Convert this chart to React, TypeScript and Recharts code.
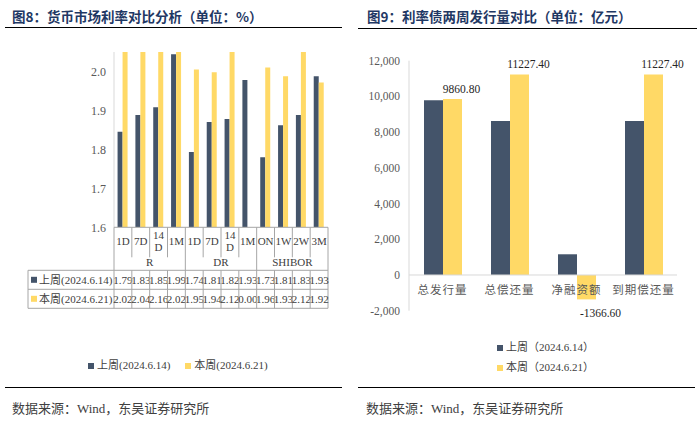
import { BarChart, Bar, XAxis, YAxis, ReferenceLine, Legend, LabelList } from 'recharts';

// Fig 8: money market rates (bars, table as printed)
const rateTerms = ['1D', '7D', '14D', '1M', '1D', '7D', '14D', '1M', 'ON', '1W', '2W', '3M'];
const rateGroups = ['R', 'DR', 'SHIBOR'];
const rateBarsLastWeek = [1.845, 1.888, 1.908, 2.044, 1.793, 1.87, 1.878, 1.978, 1.78, 1.862, 1.888, 1.988];
const rateBarsThisWeek = [2.075, 2.095, 2.215, 2.075, 2.005, 1.998, 2.175, null, 2.01, 1.988, 2.175, 1.972];
const rateTableLastWeek = ['1.79', '1.83', '1.85', '1.99', '1.74', '1.81', '1.82', '1.93', '1.73', '1.81', '1.83', '1.93'];
const rateTableThisWeek = ['2.02', '2.04', '2.16', '2.02', '1.95', '1.94', '2.12', '0.00', '1.96', '1.93', '2.12', '1.92'];
const rateTicks = [1.6, 1.7, 1.8, 1.9, 2.0];

// Fig 9: rate bond issuance
const bondCats = ['总发行量', '总偿还量', '净融资额', '到期偿还量'];
const bondLastWeek = [9780, 8620, 1160, 8620];
const bondThisWeek = [9860.8, 11227.4, -1366.6, 11227.4];
const bondTicks = [-2000, 0, 2000, 4000, 6000, 8000, 10000, 12000];

const LAST_LABEL = '上周(2024.6.14)';
const THIS_LABEL = '本周(2024.6.21)';
const LAST_LABEL_CN = '上周（2024.6.14）';
const THIS_LABEL_CN = '本周（2024.6.21）';

const NAVY = '#44546A';
const YELLOW = '#FFD966';
const SERIF = '"Liberation Serif", "Noto Sans CJK SC", serif';
const GRID = '#A6A6A6';

const rateData = rateTerms.map((t, i) => ({
  term: t,
  idx: i,
  last: rateBarsLastWeek[i],
  cur: rateBarsThisWeek[i],
}));

const bondData = bondCats.map((c, i) => ({ cat: c, last: bondLastWeek[i], cur: bondThisWeek[i] }));

// left chart geometry
const L_AXIS_W = 114;
const L_PLOT_W = 214;
const COL_W = L_PLOT_W / rateTerms.length;
const ROW_LABEL_X = 28;

function RateTableTick(props: any) {
  const { x, y, payload } = props;
  const i = payload.index;
  const left = x - COL_W / 2;
  const right = x + COL_W / 2;
  const term = rateTerms[i];
  const txt = { fontFamily: SERIF, fontSize: 11, fill: '#404040', textAnchor: 'middle' as const, dominantBaseline: 'central' as const };
  const plotRight = L_AXIS_W + L_PLOT_W;
  return (
    <g>
      {i % 4 === 0 ? (
        <line x1={left} x2={left} y1={y} y2={y + 81} stroke={GRID} />
      ) : (
        <>
          <line x1={left} x2={left} y1={y} y2={y + 30} stroke={GRID} />
          <line x1={left} x2={left} y1={y + 43} y2={y + 81} stroke={GRID} />
        </>
      )}
      {i === rateTerms.length - 1 && <line x1={right} x2={right} y1={y} y2={y + 81} stroke={GRID} />}
      {term === '14D' ? (
        <>
          <text x={x} y={y + 8} {...txt}>14</text>
          <text x={x} y={y + 19.5} {...txt}>D</text>
        </>
      ) : (
        <text x={x} y={y + 13.5} {...txt}>{term}</text>
      )}
      {i % 4 === 1 && <text x={right} y={y + 35} {...txt}>{rateGroups[Math.floor(i / 4)]}</text>}
      <text x={x} y={y + 52.5} {...txt}>{rateTableLastWeek[i]}</text>
      <text x={x} y={y + 71.5} {...txt}>{rateTableThisWeek[i]}</text>
      {i === 0 && (
        <>
          <line x1={ROW_LABEL_X} x2={plotRight} y1={y + 43} y2={y + 43} stroke={GRID} />
          <line x1={ROW_LABEL_X} x2={plotRight} y1={y + 62} y2={y + 62} stroke={GRID} />
          <line x1={ROW_LABEL_X} x2={plotRight} y1={y + 81} y2={y + 81} stroke={GRID} />
          <line x1={ROW_LABEL_X} x2={ROW_LABEL_X} y1={y + 43} y2={y + 81} stroke={GRID} />
          <rect x={31} y={y + 49.5} width={6} height={6} fill={NAVY} />
          <text x={39} y={y + 52.5} {...txt} textAnchor="start">{LAST_LABEL}</text>
          <rect x={31} y={y + 68.5} width={6} height={6} fill={YELLOW} />
          <text x={39} y={y + 71.5} {...txt} textAnchor="start">{THIS_LABEL}</text>
        </>
      )}
    </g>
  );
}

function BondTick(props: any) {
  const { x, y, payload } = props;
  return (
    <text x={x} y={y - 21} textAnchor="middle" dominantBaseline="central" fontFamily={SERIF} fontSize={11.5} fill="#595959" letterSpacing={1}>
      {payload.value}
    </text>
  );
}

function BondLabel(props: any) {
  const vb = props.viewBox ?? props;
  const { x, y, width, height } = vb;
  const value = Number(props.value);
  const top = Math.min(y, y + height);
  const bottom = Math.max(y, y + height);
  const neg = value < 0;
  return (
    <text
      x={x + width / 2 + (neg ? 14 : 9)}
      y={neg ? bottom + 14 : top - 10}
      textAnchor="middle"
      dominantBaseline="central"
      fontFamily={SERIF}
      fontSize={11.5}
      fill="#262626"
    >
      {value.toFixed(2)}
    </text>
  );
}

const sq = (c: string) => (
  <span style={{ display: 'inline-block', width: 6, height: 6, background: c, marginRight: 3, verticalAlign: 'middle' }} />
);

const abs = (s: React.CSSProperties): React.CSSProperties => ({ position: 'absolute', ...s });

export default function App() {
  const cnFont = '"Noto Sans CJK SC", sans-serif';
  return (
    <div style={{ position: 'absolute', left: 0, top: 0, width: 700, height: 423, background: '#fff', overflow: 'hidden' }}>
      <div style={abs({ left: 12, top: 7, fontSize: 13.5, lineHeight: '18px', fontWeight: 'bold', color: '#1F3864', fontFamily: cnFont, whiteSpace: 'nowrap' })}>
        图8：货币市场利率对比分析（单位：%）
      </div>
      <div style={abs({ left: 367, top: 7, fontSize: 13.5, lineHeight: '18px', fontWeight: 'bold', color: '#1F3864', fontFamily: cnFont, whiteSpace: 'nowrap' })}>
        图9：利率债两周发行量对比（单位：亿元）
      </div>
      <div style={abs({ left: 5, top: 27, width: 337, borderTop: '1.5px solid #000' })} />
      <div style={abs({ left: 358, top: 28, width: 339, borderTop: '1.5px solid #000' })} />

      <div style={abs({ left: 0, top: 0 })}>
        <BarChart width={350} height={380} data={rateData} margin={{ top: 52, right: 22, bottom: 52.7, left: 0 }} barCategoryGap="20%" barGap={0}>
          <YAxis
            type="number"
            domain={[1.6, 2.05]}
            ticks={rateTicks}
            allowDataOverflow
            width={L_AXIS_W}
            tickSize={0}
            tickMargin={8}
            axisLine={{ stroke: '#D9D9D9' }}
            tickLine={false}
            tickFormatter={(v: number) => v.toFixed(1)}
            tick={{ fill: '#595959', fontSize: 12, fontFamily: SERIF }}
          />
          <XAxis
            dataKey="idx"
            type="category"
            height={100}
            interval={0}
            tickSize={0}
            tickMargin={0}
            axisLine={{ stroke: GRID }}
            tickLine={false}
            tick={<RateTableTick />}
          />
          <Bar dataKey="last" name={LAST_LABEL} fill={NAVY} isAnimationActive={false} />
          <Bar dataKey="cur" name={THIS_LABEL} fill={YELLOW} isAnimationActive={false} />
          <Legend
            verticalAlign="middle"
            align="center"
            wrapperStyle={{ top: 357, left: 0, width: 350 }}
            content={() => (
              <div style={{ display: 'flex', paddingLeft: 88, fontFamily: SERIF, fontSize: 11, color: '#404040', lineHeight: '16px' }}>
                <span>{sq(NAVY)}{LAST_LABEL}</span>
                <span style={{ marginLeft: 15 }}>{sq(YELLOW)}{THIS_LABEL}</span>
              </div>
            )}
          />
        </BarChart>
      </div>

      <div style={abs({ left: 350, top: 0 })}>
        <BarChart width={350} height={380} data={bondData} margin={{ top: 60.7, right: 23, bottom: 39.3, left: 0 }} barSize={19} barGap={0}>
          <YAxis
            type="number"
            domain={[-2000, 12000]}
            ticks={bondTicks}
            width={59}
            tickSize={0}
            tickMargin={9}
            axisLine={{ stroke: '#D9D9D9' }}
            tickLine={false}
            tickFormatter={(v: number) => v.toLocaleString('en-US')}
            tick={{ fill: '#595959', fontSize: 11.5, fontFamily: SERIF }}
          />
          <XAxis dataKey="cat" type="category" height={30} interval={0} tickSize={0} tickMargin={0} axisLine={false} tickLine={false} tick={<BondTick />} />
          <ReferenceLine y={0} stroke="#D9D9D9" />
          <Bar dataKey="last" name={LAST_LABEL_CN} fill={NAVY} isAnimationActive={false} />
          <Bar dataKey="cur" name={THIS_LABEL_CN} fill={YELLOW} isAnimationActive={false}>
            <LabelList dataKey="cur" content={<BondLabel />} />
          </Bar>
          <Legend
            verticalAlign="middle"
            align="center"
            wrapperStyle={{ top: 338, left: 0, width: 350 }}
            content={() => (
              <div style={{ paddingLeft: 147, fontFamily: SERIF, fontSize: 11, color: '#404040', lineHeight: '19.5px' }}>
                <div>{sq(NAVY)}{LAST_LABEL_CN}</div>
                <div>{sq(YELLOW)}{THIS_LABEL_CN}</div>
              </div>
            )}
          />
        </BarChart>
      </div>

      <div style={abs({ left: 5, top: 387, width: 337, borderTop: '1.5px solid #000' })} />
      <div style={abs({ left: 358, top: 387, width: 337, borderTop: '1.5px solid #000' })} />
      <div style={abs({ left: 12, top: 400, fontSize: 13, lineHeight: '18px', color: '#404040', fontFamily: SERIF, whiteSpace: 'nowrap' })}>
        数据来源：Wind，东吴证券研究所
      </div>
      <div style={abs({ left: 366, top: 400, fontSize: 13, lineHeight: '18px', color: '#404040', fontFamily: SERIF, whiteSpace: 'nowrap' })}>
        数据来源：Wind，东吴证券研究所
      </div>
    </div>
  );
}
